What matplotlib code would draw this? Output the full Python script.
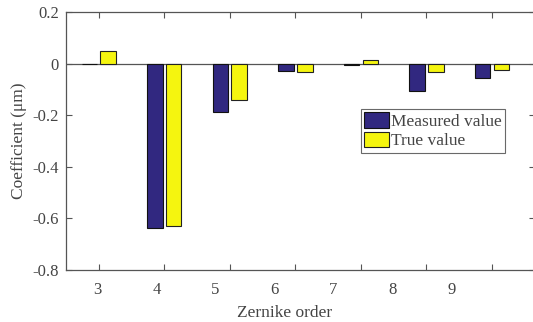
import numpy as np
import matplotlib
matplotlib.use('Agg')
import matplotlib.pyplot as plt

# dados
ordens = ['3', '4', '5', '6', '7', '8', '9']
medido = [-0.002, -0.638, -0.188, -0.026, -0.004, -0.106, -0.054]
verdadeiro = [0.048, -0.630, -0.142, -0.030, 0.016, -0.030, -0.023]

cor_medido = '#312880'
cor_verdadeiro = '#f5f50f'
cor_texto = '#444444'

plt.rcParams['font.family'] = 'Liberation Serif'
plt.rcParams['font.size'] = 12

fig = plt.figure(figsize=(5.33, 3.22), dpi=100)
ax = fig.add_axes([0.1238, 0.1615, 0.8802, 0.8003])

x = np.arange(1, len(ordens) + 1)
largura = 0.237
ax.bar(x - 0.144, medido, largura, color=cor_medido, edgecolor='#111111', linewidth=0.8, label='Measured value', zorder=3)
ax.bar(x + 0.144, verdadeiro, largura, color=cor_verdadeiro, edgecolor='#222222', linewidth=0.8, label='True value', zorder=3)
ax.axhline(0, color='#555555', linewidth=0.9, zorder=2)

ax.set_xlim(0.5, 7.66)
ax.set_ylim(-0.8, 0.2)
ax.set_yticks(np.arange(-0.8, 0.21, 0.2))
ax.set_yticklabels(['-0.8', '-0.6', '-0.4', '-0.2', '0', '0.2'])

# marcas nos grupos, rotulos deslocados como no original
ax.set_xticks(x)
ax.set_xticklabels([])
ax.set_xticks(0.98 + 0.9 * np.arange(len(ordens)), minor=True)
ax.set_xticklabels(ordens, minor=True)
ax.tick_params(axis='x', which='minor', length=0, pad=9)
ax.tick_params(which='major', direction='in', length=4, width=0.8, top=True, right=True, colors='#555555')
ax.tick_params(which='both', labelcolor=cor_texto, labelsize=12)
ax.tick_params(axis='y', pad=5)

for s in ax.spines.values():
    s.set_color('#555555')
    s.set_linewidth(0.9)

ax.set_xlabel('Zernike order', color=cor_texto, fontsize=12.5, labelpad=1)
ax.xaxis.set_label_coords(0.465, -0.135)
ax.set_ylabel('Coefficient (μm)', color=cor_texto, fontsize=12.5, labelpad=4)

leg = ax.legend(loc='upper left', bbox_to_anchor=(0.628, 0.625), fontsize=12.5,
                frameon=True, fancybox=False, borderpad=0.2, handletextpad=0.1,
                labelspacing=0.08, handlelength=1.45, handleheight=1.0, borderaxespad=0)
leg.get_frame().set_edgecolor('#444444')
leg.get_frame().set_linewidth(0.8)
for t in leg.get_texts():
    t.set_color(cor_texto)

fig.savefig('out.png', dpi=100)
